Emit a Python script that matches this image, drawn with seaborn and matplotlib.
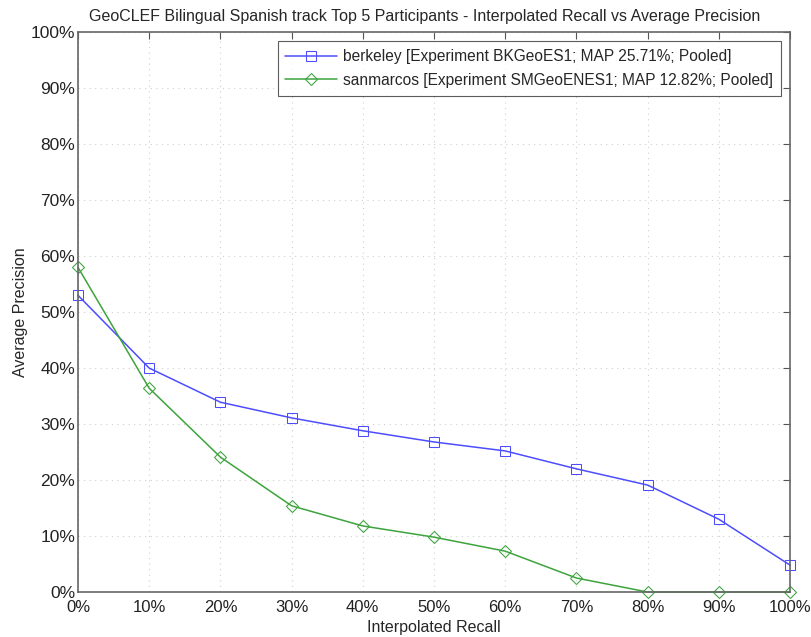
import numpy as np
import pandas as pd
import seaborn as sns
import matplotlib.pyplot as plt
from matplotlib.ticker import PercentFormatter

# Interpolated recall levels and precision per participant (in %)
recall = [0, 10, 20, 30, 40, 50, 60, 70, 80, 90, 100]
berkeley = [53.0, 40.0, 33.9, 31.1, 28.8, 26.8, 25.2, 22.0, 19.1, 13.0, 4.8]
sanmarcos = [58.0, 36.4, 24.1, 15.4, 11.8, 9.8, 7.3, 2.5, 0.0, 0.0, 0.0]

label_berkeley = 'berkeley [Experiment BKGeoES1; MAP 25.71%; Pooled]'
label_sanmarcos = 'sanmarcos [Experiment SMGeoENES1; MAP 12.82%; Pooled]'

data = pd.concat([
    pd.DataFrame({'recall': recall, 'precision': berkeley, 'run': label_berkeley}),
    pd.DataFrame({'recall': recall, 'precision': sanmarcos, 'run': label_sanmarcos}),
])

sns.set_style('white')
plt.rcParams['font.family'] = ['Liberation Sans', 'DejaVu Sans']

fig = plt.figure(figsize=(8.12, 6.37), dpi=100)
ax = fig.add_axes([0.0960, 0.0706, 0.877, 0.879])

palette = {label_berkeley: '#4d4dff', label_sanmarcos: '#3da33d'}
markers = {label_berkeley: 's', label_sanmarcos: 'D'}
sns.lineplot(data=data, x='recall', y='precision', hue='run', style='run',
             palette=palette, markers=markers, dashes=False, ax=ax,
             markersize=7, linewidth=1.1, clip_on=False)
# hollow markers, edge in line colour
for line in ax.get_lines():
    line.set_markeredgecolor(line.get_color())
    line.set_markerfacecolor('none')
    if line.get_marker() == 'D':
        line.set_markersize(6)

ax.set_xlim(0, 100)
ax.set_ylim(0, 100)
ax.set_xticks(np.arange(0, 101, 10))
ax.set_yticks(np.arange(0, 101, 10))
ax.xaxis.set_major_formatter(PercentFormatter(decimals=0))
ax.yaxis.set_major_formatter(PercentFormatter(decimals=0))
ax.tick_params(direction='in', length=5, labelsize=12.5, top=True, right=True,
               color='#555555', labelcolor='#222222', pad=2)
ax.tick_params(axis='x', pad=6, labelsize=12)
ax.grid(True, linestyle=(0, (1, 4)), linewidth=0.8, color='#d0d0d0')
for s in ax.spines.values():
    s.set_color('#666666')
    s.set_linewidth(1.2)

ax.set_xlabel('Interpolated Recall', fontsize=11.5, labelpad=3)
ax.set_ylabel('Average Precision', fontsize=11.5, labelpad=2)
ax.set_title('GeoCLEF Bilingual Spanish track Top 5 Participants - Interpolated Recall vs Average Precision',
             fontsize=11.5, pad=8, x=0.487)

leg = ax.legend(loc='upper right', fontsize=11.2, frameon=True, fancybox=False,
                edgecolor='#333333', borderaxespad=0.6, handlelength=3.3,
                borderpad=0.5, labelspacing=0.55, handletextpad=0.4)
leg.get_frame().set_linewidth(0.8)
for h in leg.legend_handles:
    h.set_markerfacecolor('none')

fig.savefig('out.png', dpi=100)
